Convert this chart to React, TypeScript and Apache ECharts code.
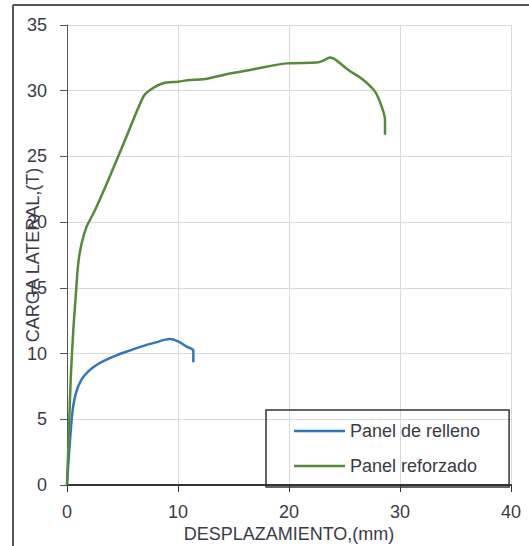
import React, { useEffect, useRef } from "react";
import * as echarts from "echarts";

const xTicks = [0, 10, 20, 30, 40];
const yTicks = [0, 5, 10, 15, 20, 25, 30, 35];

const rellenoX = [0, 0.12, 0.27, 0.42, 0.55, 0.72, 0.92, 1.17, 1.5, 1.92, 2.4, 3.0, 3.7, 4.4, 5.2, 6.4, 7.9, 9.28, 10.0, 10.78, 11.38, 11.38];
const rellenoY = [0, 1.65, 3.4, 4.95, 5.95, 6.7, 7.3, 7.8, 8.25, 8.65, 8.98, 9.3, 9.6, 9.85, 10.1, 10.45, 10.83, 11.1, 10.92, 10.53, 10.22, 9.34];

const reforzadoX = [0, 0.12, 0.18, 0.33, 0.57, 0.78, 1.02, 1.32, 1.77, 2.52, 3.72, 5.23, 6.88, 7.48, 8.68, 10.03, 11.08, 12.28, 14.08, 16.49, 19.79, 22.5, 23.0, 23.7, 24.3, 25.35, 26.7, 27.75, 28.35, 28.65, 28.65];
const reforzadoY = [0, 2.9, 4.19, 8.0, 11.8, 14.3, 16.9, 18.4, 19.66, 20.9, 23.2, 26.25, 29.55, 30.06, 30.57, 30.69, 30.82, 30.87, 31.2, 31.58, 32.08, 32.14, 32.25, 32.52, 32.29, 31.58, 30.82, 29.93, 28.79, 27.78, 26.64];

const seriesNames = ["Panel de relleno", "Panel reforzado"];
const xName = "DESPLAZAMIENTO,(mm)";
const yName = "CARGA LATERAL,(T)";

const FONT = "Liberation Sans";
const TEXT = "#3a3a48";

export default function App() {
  const ref = useRef<HTMLDivElement>(null);
  useEffect(() => {
    if (!ref.current) return;
    const chart = echarts.init(ref.current, undefined, { renderer: "svg" });
    const zip = (xs: number[], ys: number[]) => xs.map((x, i) => [x, ys[i]]);
    chart.setOption({
      animation: false,
      backgroundColor: "#ffffff",
      textStyle: { fontFamily: FONT },
      grid: { left: 67, right: 18, top: 25, bottom: 61, containLabel: false, outerBoundsMode: "none" },
      xAxis: {
        type: "value",
        min: xTicks[0],
        max: xTicks[xTicks.length - 1],
        interval: 10,
        name: xName,
        nameLocation: "middle",
        nameGap: 40,
        nameMoveOverlap: false,
        nameTextStyle: { fontSize: 18, color: TEXT, fontFamily: FONT, lineHeight: 18 },
        axisLine: { show: true, lineStyle: { color: "#333", width: 2 } },
        axisTick: { show: true, length: 7, lineStyle: { color: "#333", width: 1 } },
        axisLabel: { fontSize: 18, color: TEXT, margin: 18, fontFamily: FONT, lineHeight: 18 },
        splitLine: { show: true, lineStyle: { color: "#d9d9d9", width: 1 } },
      },
      yAxis: {
        type: "value",
        min: yTicks[0],
        max: yTicks[yTicks.length - 1],
        interval: 5,
        name: yName,
        nameLocation: "middle",
        nameGap: 25,
        nameMoveOverlap: false,
        nameTextStyle: { fontSize: 18, color: TEXT, fontFamily: FONT },
        axisLine: { show: true, lineStyle: { color: "#555", width: 1 } },
        axisTick: { show: true, length: 7, lineStyle: { color: "#555", width: 1 } },
        axisLabel: { fontSize: 18, color: TEXT, margin: 20, fontFamily: FONT },
        splitLine: { show: true, lineStyle: { color: "#d9d9d9", width: 1 } },
      },
      legend: {
        orient: "vertical",
        left: 266,
        top: 410,
        padding: [11, 29, 11, 28],
        itemGap: 15,
        itemWidth: 51,
        itemHeight: 2.5,
        icon: "rect",
        borderColor: "#333",
        borderWidth: 1.5,
        textStyle: { fontSize: 18, color: TEXT, fontFamily: FONT, lineHeight: 20 },
        data: seriesNames,
      },
      series: [
        {
          name: seriesNames[0],
          type: "line",
          data: zip(rellenoX, rellenoY),
          symbol: "none",
          smooth: 0.3,
          lineStyle: { color: "#2f77bd", width: 2.5 },
          itemStyle: { color: "#2f77bd" },
        },
        {
          name: seriesNames[1],
          type: "line",
          data: zip(reforzadoX, reforzadoY),
          symbol: "none",
          smooth: 0.3,
          lineStyle: { color: "#548a38", width: 2.5 },
          itemStyle: { color: "#548a38" },
        },
      ],
      graphic: [
        { type: "line", shape: { x1: 13, y1: 5, x2: 13, y2: 546 }, style: { stroke: "#555", lineWidth: 2 } },
        { type: "line", shape: { x1: 13, y1: 5, x2: 529, y2: 5 }, style: { stroke: "#555", lineWidth: 2 } },
      ],
    });
    return () => chart.dispose();
  }, []);
  return <div ref={ref} style={{ position: "fixed", left: 0, top: 0, width: 529, height: 546 }} />;
}
